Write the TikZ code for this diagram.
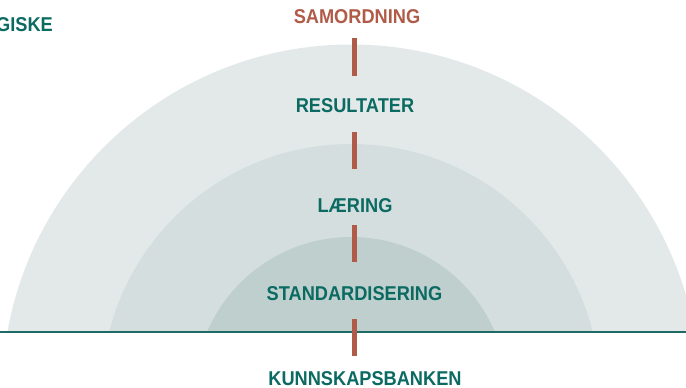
\documentclass[tikz,border=0pt]{standalone}
\usepackage{fontspec}
\newfontfamily\labelfont{Liberation Sans}[FakeStretch=0.91]
\definecolor{ringouter}{RGB}{227,233,233}
\definecolor{ringmid}{RGB}{212,222,222}
\definecolor{ringinner}{RGB}{190,207,205}
\definecolor{tealtext}{RGB}{11,106,98}
\definecolor{rustbar}{RGB}{176,90,72}
\definecolor{baseteal}{RGB}{30,107,102}

\tikzset{every picture/.style={line width=0.75pt}}
\tikzset{
  ringlabel/.style={text=tealtext,inner sep=0.75pt,font=\labelfont\bfseries\fontsize{20}{24}\selectfont},
  toplabel/.style={ringlabel,text=rustbar},
  tickbar/.style={draw=rustbar,line width=5.3}
}

\begin{document}
\begin{tikzpicture}[x=1pt,y=1pt,yscale=-1,xscale=1]
\useasboundingbox (0,0) rectangle (686,388);

%Shape: Rings, cut at the base line
\begin{scope}
\clip (0,0) rectangle (686,332.3);
\fill [ringouter] (351,393.5) circle [radius=349];
\fill [ringmid] (351,393.5) circle [radius=249.5];
\fill [ringinner] (351,393.5) circle [radius=156.5];
\end{scope}

%Straight Lines: base line
\draw [baseteal,line width=2] (0,332.3) -- (686,332.3);

%Straight Lines: bars
\draw [tickbar] (354.7,38.3) -- (354.7,75.7);
\draw [tickbar] (354.7,131.7) -- (354.7,169.3);
\draw [tickbar] (354.7,225) -- (354.7,262.3);
\draw [tickbar] (354.7,319) -- (354.7,355.7);

% Text Node
\node [toplabel] (samordning) at (357,16.8) {SAMORDNING};
% Text Node
\node [ringlabel] (resultater) at (355,105.5) {RESULTATER};
% Text Node
\node [ringlabel] (laering) at (355,205.3) {LÆRING};
% Text Node
\node [ringlabel] (standard) at (354.5,293.3) {STANDARDISERING};
% Text Node
\node [ringlabel] (kunnskap) at (365,378.8) {KUNNSKAPSBANKEN};
% Text Node
\node [ringlabel,anchor=east] (giske) at (54,24.5) {GISKE};

\end{tikzpicture}
\end{document}
